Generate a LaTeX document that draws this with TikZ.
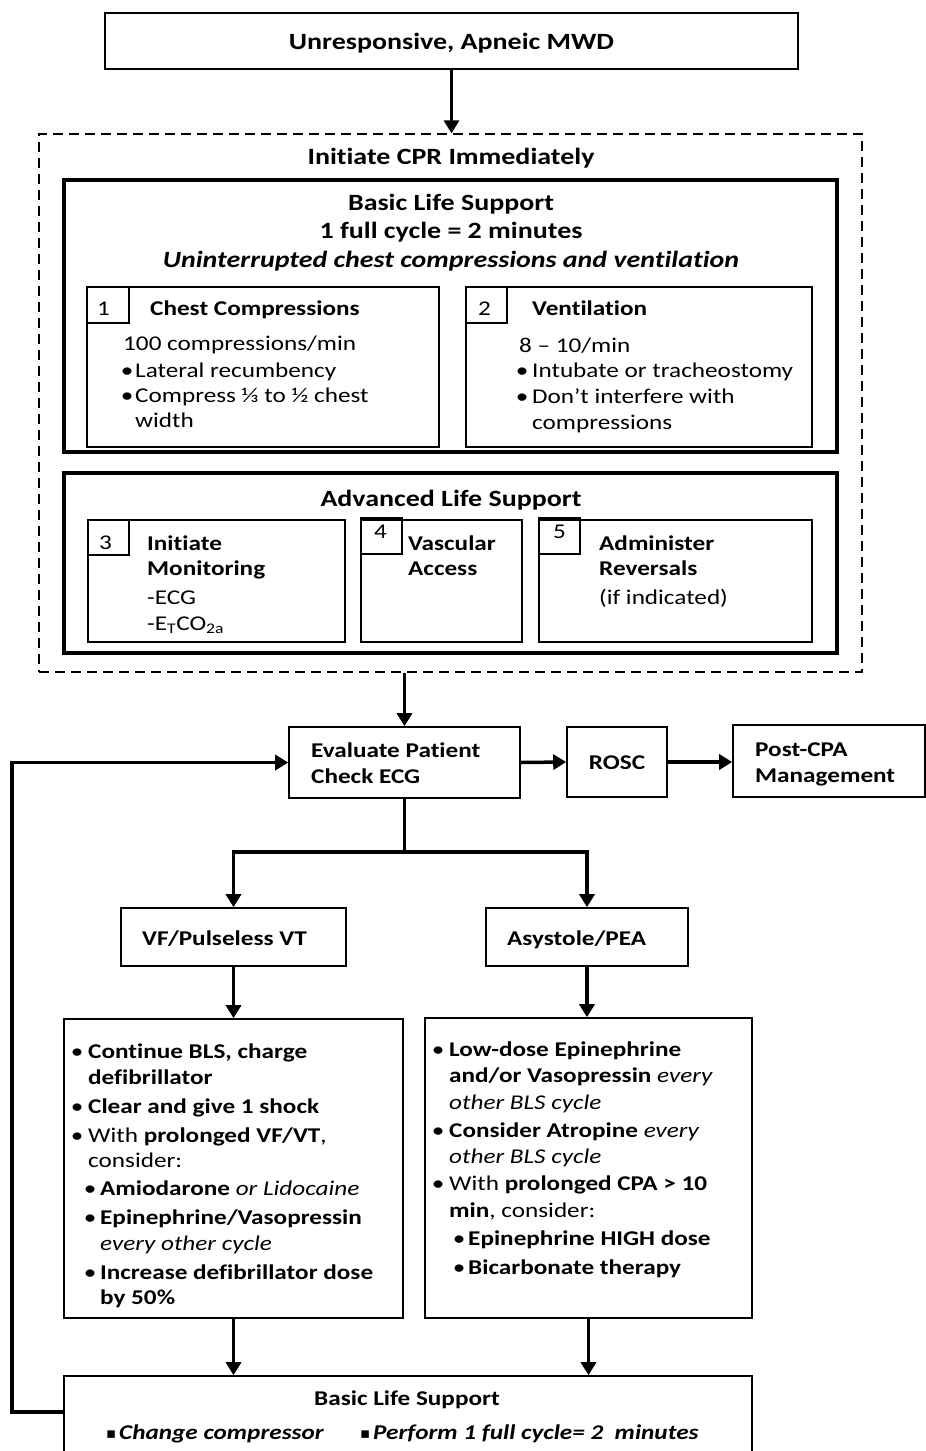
\documentclass[tikz,border=0pt]{standalone}
\usepackage{fontspec}
\setmainfont{Carlito}[FakeStretch=1.2, Ligatures=NoCommon]
\newfontfamily\dejavu{DejaVu Sans}
\usetikzlibrary{arrows.meta,fit}
\newcommand\fsz[1]{\fontsize{#1}{#1}\selectfont}
\newcommand\bul[1]{\llap{\makebox[0pt][c]{\mdseries\upshape •}\kern#1}}
\newcommand\sqb{\makebox[13pt][l]{{\dejavu\fsz{15}\raisebox{1pt}{▪}}}}
\begin{document}
\begin{tikzpicture}[x=1pt,y=-1pt,
  box/.style={draw, line width=1.6pt, inner sep=0pt},
  heavy/.style={draw, line width=4pt, inner sep=0pt},
  dashbox/.style={draw, line width=1.3pt, dash pattern=on 10pt off 6pt, inner sep=0pt},
  arr/.style={line width=3.5pt, line join=miter, -{Triangle[length=13pt,width=15pt]}},
  link/.style={line width=3.5pt, line join=miter},
  tl/.style={inner sep=0pt, anchor=mid west, yshift=-5pt, font=\fsz{21}},
  tb/.style={inner sep=0pt, anchor=mid west, yshift=-5pt, font=\fsz{21}\bfseries},
  tc/.style={inner sep=0pt, anchor=mid, yshift=-5pt, font=\fsz{23.3}\bfseries}]
\useasboundingbox (0,0) rectangle (926,1451);
\clip (0,0) rectangle (926,1451);

% top
\node[box, fit={(105,13) (798,69)}] (top) {};
\node[tc] (ttop) at (451.5,42) {Unresponsive, Apneic MWD};

% dashed CPR region
\node[dashbox, fit={(39,134) (862,672)}] (cpr) {};
\node[tc] (tcpr) at (451,157) {Initiate CPR Immediately};

% BLS
\node[heavy, fit={(64,180) (837,452)}] (bls) {};
\node[tc] (tb1) at (451,203) {Basic Life Support};
\node[tc] (tb2) at (451,231) {1 full cycle = 2 minutes};
\node[tc, font=\fsz{23.3}\bfseries\itshape] (tb3) at (451,260) {Uninterrupted chest compressions and ventilation};

% box 1
\node[box, fit={(87,287) (439,447)}] (b1) {};
\node[box, fit={(87,287) (129,323)}] (n1) {};
\node[tl] (n1t) at (97,308) {1};
\node[tb] (b1h) at (150,308) {Chest Compressions};
\node[tl] (b1a) at (123,343) {100 compressions/min};
\node[tl] (b1b) at (135,370) {\bul{8pt}Lateral recumbency};
\node[tl] (b1c) at (135,395) {\bul{8pt}Compress ⅓ to ½ chest};
\node[tl] (b1d) at (135,420) {width};

% box 2
\node[box, fit={(466,287) (812,447)}] (b2) {};
\node[box, fit={(466,287) (507,323)}] (n2) {};
\node[tl] (n2t) at (478,308) {2};
\node[tb] (b2h) at (532,308) {Ventilation};
\node[tl] (b2a) at (519,345) {8 – 10/min};
\node[tl] (b2b) at (532,370) {\bul{10pt}Intubate or tracheostomy};
\node[tl] (b2c) at (532,396) {\bul{10pt}Don’t interfere with};
\node[tl] (b2d) at (532,422) {compressions};

% ALS
\node[heavy, fit={(64,473) (837,653)}] (als) {};
\node[tc] (ta) at (451,499) {Advanced Life Support};

\node[box, fit={(88,520) (345,642)}] (b3) {};
\node[box, fit={(88,520) (129,555)}] (n3) {};
\node[tl] (n3t) at (99,542) {3};
\node[tb] (b3a) at (147,543) {Initiate};
\node[tb] (b3b) at (147,568) {Monitoring};
\node[tl] (b3c) at (147,597) {-ECG};
\node[tl] (b3d) at (147,623) {-E\textsubscript{T}CO\textsubscript{2a}};

\node[box, fit={(361,520) (522,642)}] (b4) {};
\node[box, fit={(361,518) (402,554)}] (n4) {};
\node[tl] (n4t) at (374,531) {4};
\node[tb] (b4a) at (408,543) {Vascular};
\node[tb] (b4b) at (408,568) {Access};

\node[box, fit={(539,520) (812,642)}] (b5) {};
\node[box, fit={(539,518) (580,554)}] (n5) {};
\node[tl] (n5t) at (553,531) {5};
\node[tb] (b5a) at (599,543) {Administer};
\node[tb] (b5b) at (599,568) {Reversals};
\node[tl] (b5c) at (599,597) {(if indicated)};

% evaluation row
\node[box, fit={(289,727) (520,798)}] (eval) {};
\node[tb] (te1) at (311,750) {Evaluate Patient};
\node[tb] (te2) at (311,776) {Check ECG};
\node[box, fit={(567,727) (667,797)}] (rosc) {};
\node[tb, anchor=mid] (tr) at (617,762) {ROSC};
\node[box, fit={(733,725) (925,797)}] (post) {};
\node[tb] (tp1) at (755,749) {Post-CPA};
\node[tb] (tp2) at (755,775) {Management};

% rhythm boxes
\node[box, fit={(121,908) (346,966)}] (vf) {};
\node[tb] (tvf) at (142,938) {VF/Pulseless VT};
\node[box, fit={(486,908) (688,966)}] (asys) {};
\node[tb] (tas) at (507,938) {Asystole/PEA};

% VF detail
\node[box, fit={(64,1019) (403,1318)}] (vfd) {};
\node[tb] (v1) at (88,1051) {\bul{11pt}Continue BLS, charge};
\node[tb] (v2) at (88,1077) {defibrillator};
\node[tb] (v3) at (88,1106) {\bul{11pt}Clear and give 1 shock};
\node[tl] (v4) at (88,1135) {\bul{11pt}With \textbf{prolonged VF/VT},};
\node[tl] (v5) at (88,1160) {consider:};
\node[tl] (v6) at (100,1188) {\bul{10pt}\textbf{Amiodarone} \textit{or Lidocaine}};
\node[tb] (v7) at (100,1217) {\bul{10pt}Epinephrine/Vasopressin};
\node[tl, font=\fsz{21}\itshape] (v8) at (100,1243) {every other cycle};
\node[tb] (v9) at (100,1272) {\bul{10pt}Increase defibrillator dose};
\node[tb] (v10) at (100,1297) {by 50\%};

% Asystole detail
\node[box, fit={(425,1018) (752,1318)}] (asd) {};
\node[tb] (a1) at (449,1049) {\bul{11pt}Low-dose Epinephrine};
\node[tl] (a2) at (449,1075) {\textbf{and/or Vasopressin} \textit{every}};
\node[tl, font=\fsz{21}\itshape] (a3) at (449,1102) {other BLS cycle};
\node[tl] (a4) at (449,1130) {\bul{11pt}\textbf{Consider Atropine} \textit{every}};
\node[tl, font=\fsz{21}\itshape] (a5) at (449,1156) {other BLS cycle};
\node[tl] (a6) at (449,1183) {\bul{11pt}With \textbf{prolonged CPA > 10}};
\node[tl] (a7) at (449,1210) {\textbf{min}, consider:};
\node[tb] (a8) at (468,1238) {\bul{9pt}Epinephrine HIGH dose};
\node[tb] (a9) at (468,1267) {\bul{9pt}Bicarbonate therapy};

% bottom BLS
\node[box, fit={(64,1376) (752,1490)}] (bls2) {};
\node[tb, anchor=mid] (tbl) at (407,1398) {Basic Life Support};
\node[tl, font=\fsz{21}\bfseries\itshape] (bl1) at (106,1432) {\sqb Change compressor};
\node[tl, font=\fsz{21}\bfseries\itshape] (bl2) at (360,1432) {\sqb Perform 1 full cycle= 2\ \ minutes};

% connectors
\draw[arr] (top.south) -- (top.south |- cpr.north);
\draw[arr] (eval.north |- cpr.south) -- (eval.north);
\draw[arr] (eval.east) -- (rosc.west);
\draw[arr] (rosc.east) -- (rosc.east -| post.west);
\coordinate (split) at (404.5,852);
\draw[link] (eval.south) -- (split);
\draw[link, {Triangle[length=13pt,width=15pt]}-{Triangle[length=13pt,width=15pt]}]
  (vf.north) -- (vf.north |- split) -- (asys.north |- split) -- (asys.north);
\draw[arr] (vf.south) -- (vf.south |- vfd.north);
\draw[arr] (asys.south) -- (asys.south |- asd.north);
\draw[arr] (vfd.south) -- (vfd.south |- bls2.north);
\draw[arr] (asd.south) -- (asd.south |- bls2.north);
\coordinate (lp) at (12,0);
\draw[arr] ([yshift=-37pt]bls2.north west) -| (lp |- eval.west) -- (eval.west);
\end{tikzpicture}
\end{document}
